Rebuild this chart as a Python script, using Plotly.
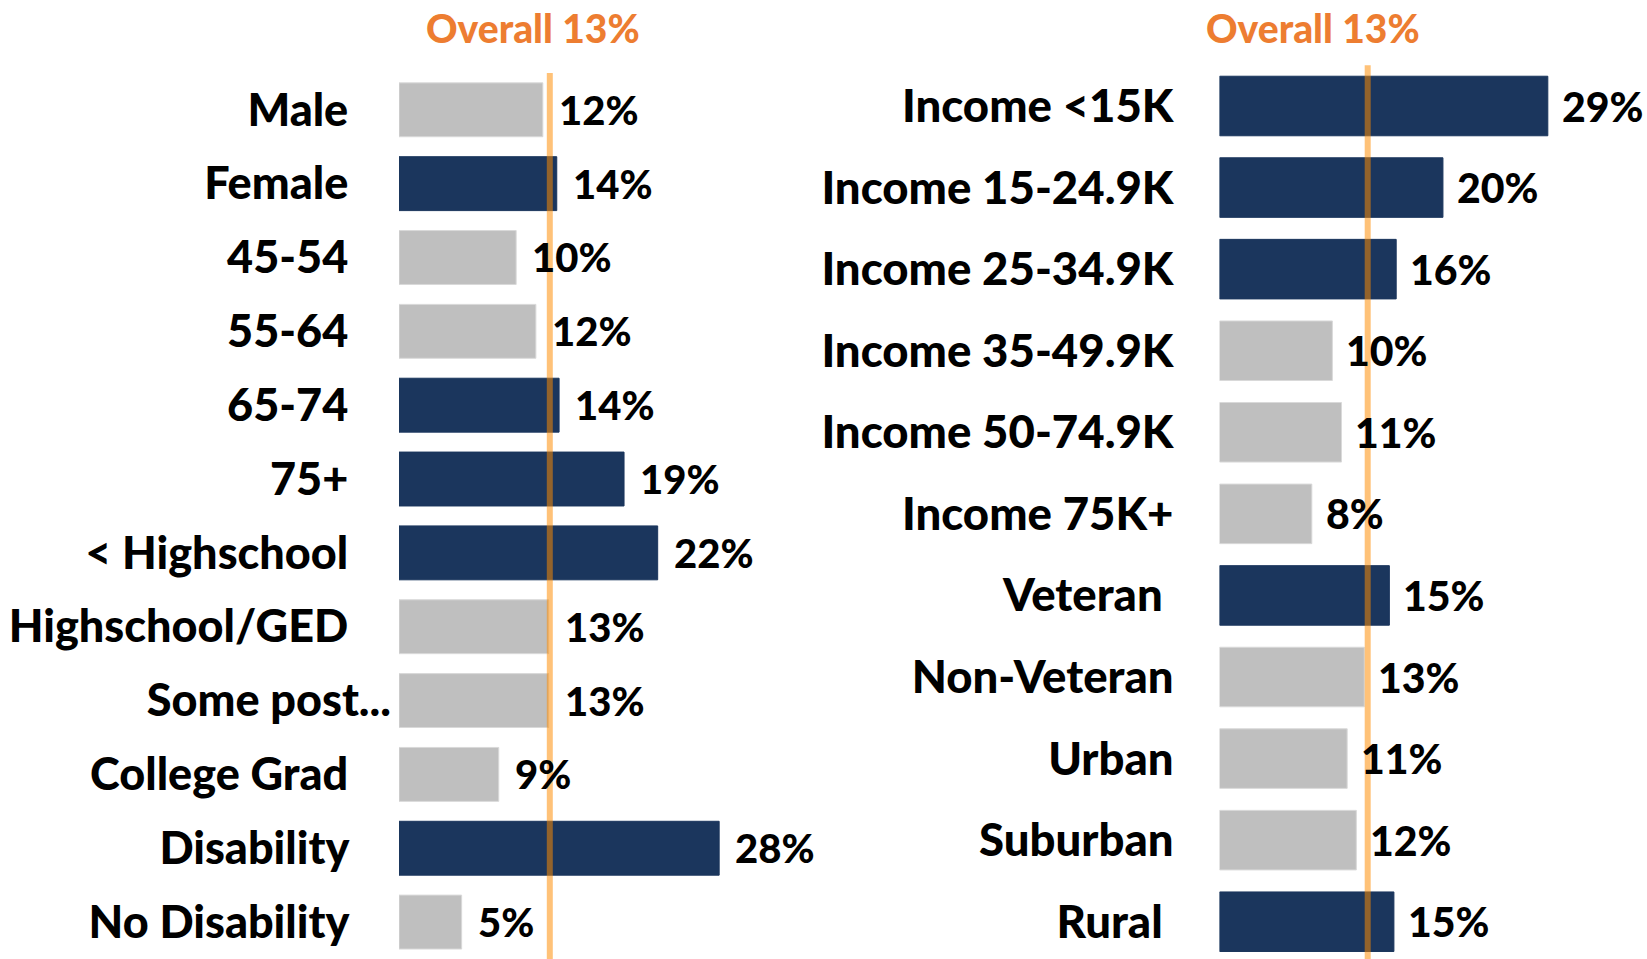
import plotly.graph_objects as go

# ---------------- data ----------------
left_categories = ["Male", "Female", "45-54", "55-64", "65-74", "75+",
                   "< Highschool", "Highschool/GED", "Some post...",
                   "College Grad", "Disability", "No Disability"]
left_values = [12.4, 13.6, 10.1, 11.8, 13.8, 19.4, 22.3, 12.9, 12.9, 8.6, 27.6, 5.4]
left_highlight = [False, True, False, False, True, True, True, False, False, False, True, False]

right_categories = ["Income <15K", "Income 15-24.9K", "Income 25-34.9K",
                    "Income 35-49.9K", "Income 50-74.9K", "Income 75K+",
                    "Veteran", "Non-Veteran", "Urban", "Suburban", "Rural"]
right_values = [28.8, 19.6, 15.5, 9.9, 10.7, 8.1, 14.9, 12.7, 11.2, 12.0, 15.3]
right_highlight = [True, True, True, False, False, False, True, False, False, False, True]

overall = 13
overall_label = "Overall 13%"

# ---------------- style ----------------
FONT = "Lato, DejaVu Sans Condensed, sans-serif"
WEIGHT = 900
NAVY = "#1B365D"
GRAY = "#BFBFBF"
ORANGE_TEXT = "#ED7D31"
ORANGE_LINE = "rgba(255,140,0,0.53)"
NBSP = "\u00a0"

W, H = 1647, 959


def colors(flags):
    return [NAVY if f else GRAY for f in flags]


def lines(flags):
    return [NAVY if f else "#D9D9D9" for f in flags]


fig = go.Figure()

fig.add_trace(go.Bar(
    x=left_values, y=left_categories, orientation="h",
    marker=dict(color=colors(left_highlight),
                line=dict(color=lines(left_highlight), width=1)),
    xaxis="x", yaxis="y", showlegend=False, hoverinfo="x+y",
))
fig.add_trace(go.Bar(
    x=right_values, y=right_categories, orientation="h",
    marker=dict(color=colors(right_highlight),
                line=dict(color=lines(right_highlight), width=1)),
    xaxis="x2", yaxis="y2", showlegend=False, hoverinfo="x+y",
))

# tick label padding (the original labels carried trailing spaces)
left_ticktext = [c if c.endswith("...") else c + NBSP * 4 for c in left_categories]
right_ticktext = [c + NBSP if c in ("Veteran", "Rural") else c for c in right_categories]

annotations = []
for v, c in zip(left_values, left_categories):
    annotations.append(dict(x=v, y=c, xref="x", yref="y", text=f"{round(v)}%",
                            showarrow=False, xanchor="left", yanchor="middle",
                            xshift=14, font=dict(family=FONT, size=40, color="black", weight=WEIGHT)))
for v, c in zip(right_values, right_categories):
    annotations.append(dict(x=v, y=c, xref="x2", yref="y2", text=f"{round(v)}%",
                            showarrow=False, xanchor="left", yanchor="middle",
                            xshift=12, font=dict(family=FONT, size=41, color="black", weight=WEIGHT)))

for cx in (533 / W, 1313 / W):
    annotations.append(dict(x=cx, y=1 - 28 / H, xref="paper", yref="paper",
                            text=overall_label, showarrow=False, xanchor="center", yanchor="middle",
                            font=dict(family=FONT, size=39, color=ORANGE_TEXT, weight=WEIGHT)))

shapes = [
    dict(type="line", xref="x", yref="y domain", x0=overall, x1=overall, y0=0, y1=1,
         line=dict(color=ORANGE_LINE, width=6), layer="above"),
    dict(type="line", xref="x2", yref="y2 domain", x0=overall, x1=overall, y0=0, y1=1,
         line=dict(color=ORANGE_LINE, width=6), layer="above"),
]

axis_hidden = dict(showgrid=False, zeroline=False, showline=False, showticklabels=False, ticks="")

fig.update_layout(
    width=W, height=H,
    margin=dict(l=0, r=0, t=0, b=0),
    paper_bgcolor="white", plot_bgcolor="white",
    bargap=0.27,
    xaxis=dict(domain=[399 / W, 747 / W], range=[0, 30], **axis_hidden),
    xaxis2=dict(domain=[1219.5 / W, 1561.5 / W], range=[0, 30], **axis_hidden),
    yaxis=dict(domain=[0, 0.924], anchor="x", type="category",
               categoryorder="array", categoryarray=left_categories,
               tickvals=left_categories, ticktext=left_ticktext,
               range=[11.5, -0.5], showgrid=False, zeroline=False, showline=False,
               ticks="", ticklabelstandoff=7,
               tickfont=dict(family=FONT, size=45, color="black", weight=WEIGHT)),
    yaxis2=dict(domain=[0, 0.932], anchor="x2", type="category",
                categoryorder="array", categoryarray=right_categories,
                tickvals=right_categories, ticktext=right_ticktext,
                range=[10.457, -0.5], showgrid=False, zeroline=False, showline=False,
                ticks="", ticklabelstandoff=45,
                tickfont=dict(family=FONT, size=45.5, color="black", weight=WEIGHT)),
    annotations=annotations,
    shapes=shapes,
    font=dict(family=FONT, color="black"),
)

fig.write_html("out.html", config={"displayModeBar": False},
               post_script="document.body.style.margin='0';document.body.style.overflow='hidden';")
